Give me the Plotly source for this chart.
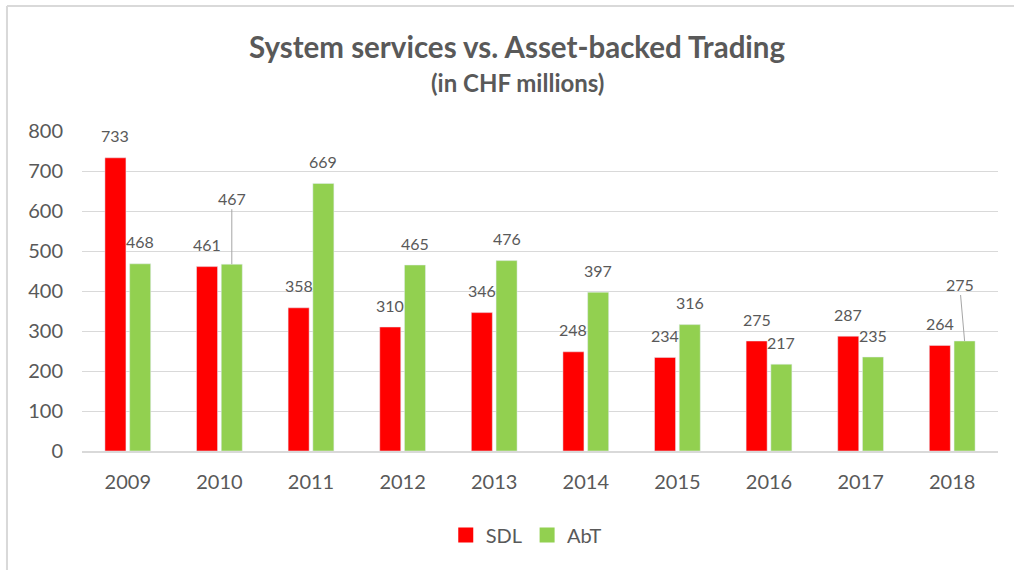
import plotly.graph_objects as go

years = ["2009", "2010", "2011", "2012", "2013", "2014", "2015", "2016", "2017", "2018"]
sdl = [733, 461, 358, 310, 346, 248, 234, 275, 287, 264]
abt = [468, 467, 669, 465, 476, 397, 316, 217, 235, 275]

RED = "#FF0000"
GREEN = "#92D050"
TEXT = "#595959"
GRID = "#D9D9D9"
FONT = "Lato"

fig = go.Figure()
fig.add_trace(go.Bar(x=years, y=sdl, name="SDL", marker_color=RED, showlegend=False))
fig.add_trace(go.Bar(x=years, y=abt, name="AbT", marker_color=GREEN, showlegend=False))
# legend entries with larger square swatches
fig.add_trace(go.Scatter(x=[years[0]], y=[None], mode="markers", name="SDL",
                         marker=dict(symbol="square", size=15, color=RED)))
fig.add_trace(go.Scatter(x=[years[0]], y=[None], mode="markers", name="AbT",
                         marker=dict(symbol="square", size=15, color=GREEN)))

# data labels (leader lines for a couple of AbT labels)
leader = {"2010": (0, -66), "2018": (-5, -57)}
BAR_SHIFT = 12.4
for i, (yr, v) in enumerate(zip(years, sdl)):
    fig.add_annotation(x=i, y=v, xshift=-BAR_SHIFT, yshift=22, text=str(v), showarrow=False,
                       font=dict(family=FONT, size=16, color=TEXT))
for i, (yr, v) in enumerate(zip(years, abt)):
    if yr in leader:
        ax, ay = leader[yr]
        fig.add_annotation(x=i, y=v, xshift=BAR_SHIFT, text=str(v), showarrow=True,
                           arrowhead=0, arrowwidth=1, arrowcolor="#A6A6A6", ax=ax, ay=ay,
                           standoff=0, font=dict(family=FONT, size=16, color=TEXT))
    else:
        fig.add_annotation(x=i, y=v, xshift=BAR_SHIFT, yshift=22, text=str(v), showarrow=False,
                           font=dict(family=FONT, size=16, color=TEXT))

# titles
fig.add_annotation(xref="paper", yref="paper", x=0.475, y=1.265, text="<b>System services vs. Asset-backed Trading</b>",
                   showarrow=False, font=dict(family=FONT, size=29.5, color=TEXT), xanchor="center", yanchor="middle")
fig.add_annotation(xref="paper", yref="paper", x=0.475, y=1.153, text="<b>(in CHF millions)</b>",
                   showarrow=False, font=dict(family=FONT, size=24, color=TEXT), xanchor="center", yanchor="middle")

# outer border (left and top edges visible)
fig.add_shape(type="line", xref="paper", yref="paper", x0=-0.0819, x1=-0.0819, y0=1.3906, y1=-0.40,
              line=dict(color=GRID, width=2))
fig.add_shape(type="line", xref="paper", yref="paper", x0=-0.0819, x1=1.10, y0=1.3906, y1=1.3906,
              line=dict(color=GRID, width=2))

fig.update_layout(
    width=1014, height=570,
    margin=dict(l=82, r=16, t=131, b=119, autoexpand=False),
    paper_bgcolor="white", plot_bgcolor="white",
    barmode="group", bargap=0.46, bargroupgap=0.15,
    font=dict(family=FONT, color=TEXT),
    showlegend=True,
    legend=dict(orientation="h", x=0.485, xanchor="center", y=-0.2625, yanchor="middle",
                font=dict(family=FONT, size=20, color=TEXT), itemsizing="trace", itemwidth=30),
    xaxis=dict(type="category", range=[-0.5, len(years) - 0.5], autorange=False,
               showgrid=False, showline=True, linecolor=GRID, linewidth=1.5,
               tickfont=dict(family=FONT, size=20, color=TEXT), ticks="", ticklabelstandoff=12,
               automargin=False),
    yaxis=dict(range=[0, 800], autorange=False, dtick=100, showgrid=True, gridcolor=GRID, gridwidth=1.3,
               zeroline=False, showline=False, tickfont=dict(family=FONT, size=20, color=TEXT),
               ticks="", ticklabelstandoff=18, automargin=False),
)

fig.write_html("out.html", config={"displayModeBar": False},
               post_script="document.body.style.margin='0';")
